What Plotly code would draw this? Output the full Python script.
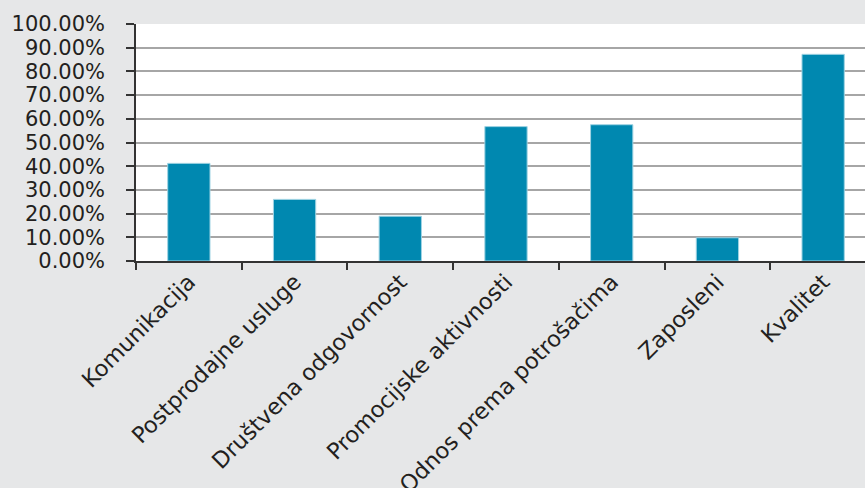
import plotly.graph_objects as go

categories = ["Komunikacija", "Postprodajne usluge", "Društvena odgovornost",
              "Promocijske aktivnosti", "Odnos prema potrošačima", "Zaposleni", "Kvalitet"]
values = [0.412, 0.260, 0.189, 0.567, 0.575, 0.098, 0.872]
y_ticks = [i / 10 for i in range(11)]

font_color = "#231f20"
fig = go.Figure(go.Bar(
    x=categories, y=values, width=0.4,
    marker=dict(color="#0088b0", line=dict(color="#9fd3e3", width=1)),
))
fig.update_layout(
    width=865, height=488,
    margin=dict(l=136, r=0, t=24, b=227),
    paper_bgcolor="#e6e7e8", plot_bgcolor="#ffffff",
    font=dict(family="DejaVu Sans", size=22, color=font_color),
    showlegend=False, bargap=0.6,
)
fig.update_yaxes(
    range=[0, 1], tickvals=y_ticks, tickformat=".2%",
    tickfont=dict(size=21),
    showgrid=True, gridcolor="#a6a6a6", gridwidth=1.5,
    showline=True, linecolor="#333333", linewidth=1.5,
    ticks="outside", ticklen=8, tickcolor="#333333", tickwidth=1.5,
    ticklabelstandoff=17,
    zeroline=False, fixedrange=True, automargin=False,
)
fig.update_xaxes(
    type="category", range=[-0.5, 6.396], tickangle=-45,
    tickfont=dict(size=22.5),
    tickson="boundaries", ticks="outside", ticklen=7, tickcolor="#333333", tickwidth=1.5,
    ticklabelstandoff=-3,
    showline=True, linecolor="#333333", linewidth=1.5, showgrid=False,
    fixedrange=True, automargin=False,
)
fig.write_html("out.html")
